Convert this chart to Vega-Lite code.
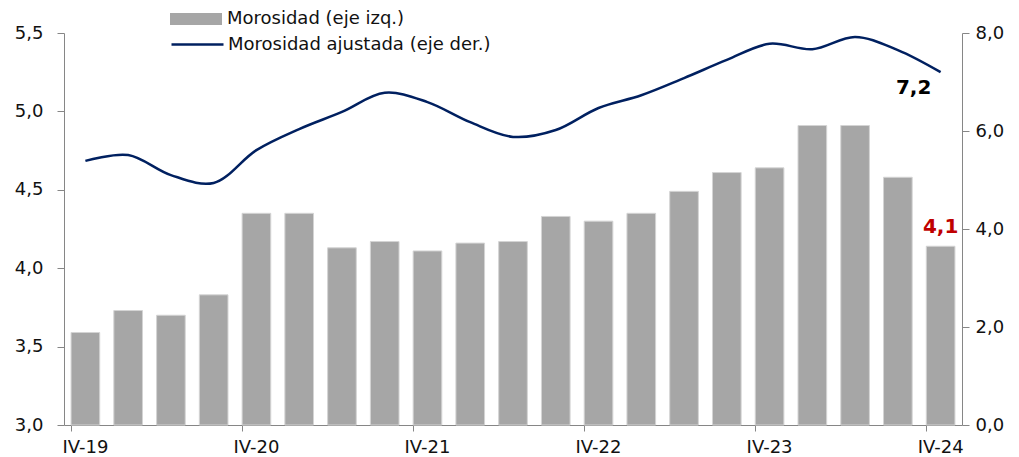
{
  "$schema": "https://vega.github.io/schema/vega-lite/v6.json",
  "width": 898,
  "height": 392,
  "autosize": {"type": "none"},
  "padding": {"left": 64, "top": 33, "right": 57, "bottom": 32},
  "config": {
    "view": {"stroke": null},
    "font": "DejaVu Sans",
    "locale": {"number": {"decimal": ",", "thousands": ".", "grouping": [3], "currency": ["", " €"]}},
    "axis": {
      "grid": false,
      "title": null,
      "domainColor": "#868686",
      "tickColor": "#868686",
      "labelColor": "#111111",
      "labelFont": "DejaVu Sans",
      "labelFontSize": 18
    },
    "legend": {"padding": 0, "labelLimit": 0}
  },
  "data": {
    "values": [
      {"q": "IV-19", "m": 3.59, "a": 5.39},
      {"q": "I-20", "m": 3.73, "a": 5.51},
      {"q": "II-20", "m": 3.70, "a": 5.10},
      {"q": "III-20", "m": 3.83, "a": 4.94},
      {"q": "IV-20", "m": 4.35, "a": 5.61},
      {"q": "I-21", "m": 4.35, "a": 6.04},
      {"q": "II-21", "m": 4.13, "a": 6.39},
      {"q": "III-21", "m": 4.17, "a": 6.78},
      {"q": "IV-21", "m": 4.11, "a": 6.59},
      {"q": "I-22", "m": 4.16, "a": 6.18},
      {"q": "II-22", "m": 4.17, "a": 5.88},
      {"q": "III-22", "m": 4.33, "a": 6.02},
      {"q": "IV-22", "m": 4.30, "a": 6.47},
      {"q": "I-23", "m": 4.35, "a": 6.73},
      {"q": "II-23", "m": 4.49, "a": 7.08},
      {"q": "III-23", "m": 4.61, "a": 7.45},
      {"q": "IV-23", "m": 4.64, "a": 7.78},
      {"q": "I-24", "m": 4.91, "a": 7.67},
      {"q": "II-24", "m": 4.91, "a": 7.92},
      {"q": "III-24", "m": 4.58, "a": 7.65},
      {"q": "IV-24", "m": 4.14, "a": 7.20}
    ]
  },
  "encoding": {
    "x": {
      "field": "q",
      "type": "ordinal",
      "sort": null,
      "scale": {"paddingInner": 0.33, "paddingOuter": 0.165},
      "axis": {
        "values": ["IV-19", "IV-20", "IV-21", "IV-22", "IV-23", "IV-24"],
        "bandPosition": 0,
        "labelAngle": 0,
        "labelAlign": "center",
        "tickSize": 6,
        "labelPadding": 7
      }
    }
  },
  "layer": [
    {
      "layer": [
        {
          "mark": {"type": "bar", "stroke": "#d4d4d4", "strokeWidth": 1},
          "encoding": {
            "y": {
              "field": "m",
              "type": "quantitative",
              "scale": {"domain": [3, 5.5], "zero": false, "nice": false},
              "axis": {"orient": "left", "values": [3, 3.5, 4, 4.5, 5, 5.5], "format": ".1f", "tickSize": 7, "labelPadding": 14}
            },
            "y2": {"datum": 3},
            "fill": {
              "datum": "Morosidad (eje izq.)",
              "type": "nominal",
              "scale": {"range": ["#a6a6a6"]},
              "legend": {
                "orient": "none",
                "legendX": 106,
                "legendY": -40,
                "title": null,
                "symbolType": "M-1,-0.23H1V0.23H-1Z",
                "symbolSize": 2704,
                "symbolStrokeWidth": 0,
                "labelFontSize": 18,
                "labelLimit": 0,
                "labelColor": "#111111",
                "labelOffset": 5
              }
            }
          }
        },
        {
          "transform": [{"filter": "datum.q === 'IV-24'"}],
          "mark": {"type": "text", "color": "#c00000", "fontWeight": "bold", "fontSize": 20, "dy": -19, "baseline": "middle"},
          "encoding": {
            "y": {"field": "m", "type": "quantitative"},
            "text": {"field": "m", "type": "quantitative", "format": ".1f"}
          }
        }
      ]
    },
    {
      "layer": [
        {
          "mark": {"type": "line", "interpolate": "catmull-rom", "strokeWidth": 2.5},
          "encoding": {
            "y": {
              "field": "a",
              "type": "quantitative",
              "scale": {"domain": [0, 8], "nice": false},
              "axis": {"orient": "right", "values": [0, 2, 4, 6, 8], "format": ".1f", "tickSize": 7, "labelPadding": 6}
            },
            "stroke": {
              "datum": "Morosidad ajustada (eje der.)",
              "type": "nominal",
              "scale": {"range": ["#002060"]},
              "legend": {
                "orient": "none",
                "legendX": 106,
                "legendY": -16,
                "title": null,
                "symbolType": "stroke",
                "symbolSize": 2704,
                "symbolStrokeWidth": 2.5,
                "labelFontSize": 18,
                "labelLimit": 0,
                "labelColor": "#111111",
                "labelOffset": 3
              }
            }
          }
        },
        {
          "transform": [{"filter": "datum.q === 'IV-24'"}],
          "mark": {"type": "text", "color": "#000000", "fontWeight": "bold", "fontSize": 20, "dx": -27, "dy": 16, "baseline": "middle"},
          "encoding": {
            "y": {"field": "a", "type": "quantitative"},
            "text": {"field": "a", "type": "quantitative", "format": ".1f"}
          }
        }
      ]
    }
  ],
  "resolve": {"scale": {"y": "independent"}}
}
